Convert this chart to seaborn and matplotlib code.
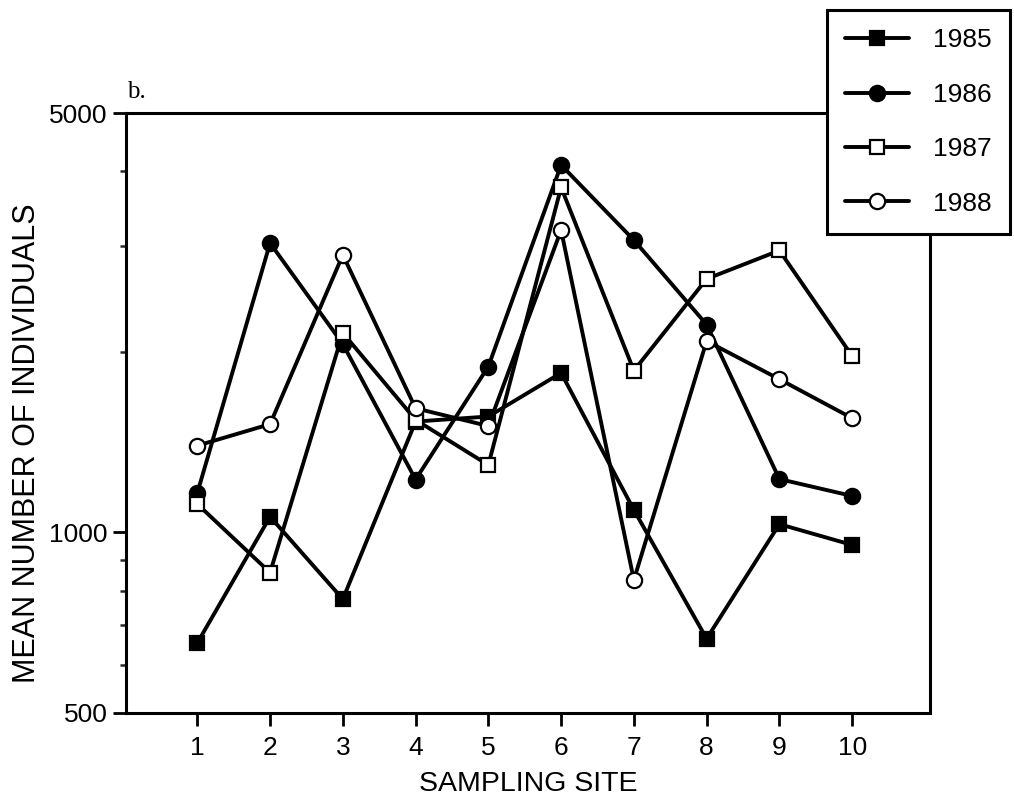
import numpy as np
import pandas as pd
import matplotlib
matplotlib.use("Agg")
import matplotlib.pyplot as plt
import seaborn as sns
from matplotlib.ticker import FixedLocator, NullFormatter

sites = [1, 2, 3, 4, 5, 6, 7, 8, 9, 10]
years = ["1985", "1986", "1987", "1988"]

counts_1985 = [654, 1062, 774, 1530, 1560, 1844, 1090, 665, 1032, 953]
counts_1986 = [1163, 3035, 2060, 1225, 1890, 4095, 3070, 2220, 1227, 1150]
counts_1987 = [1115, 857, 2150, 1540, 1295, 3760, 1860, 2645, 2950, 1968]
counts_1988 = [1395, 1515, 2900, 1610, 1504, 3190, 833, 2084, 1800, 1550]

# marker style per year: (marker, face colour)
styles = {
    "1985": ("s", "black"),
    "1986": ("o", "black"),
    "1987": ("s", "white"),
    "1988": ("o", "white"),
}

df = pd.DataFrame({
    "site": sites * 4,
    "count": counts_1985 + counts_1986 + counts_1987 + counts_1988,
    "year": np.repeat(years, len(sites)),
})

sns.set_style("ticks")
plt.rcParams["font.family"] = ["Liberation Sans", "DejaVu Sans"]
plt.rcParams["text.color"] = "black"
plt.rcParams["axes.labelcolor"] = "black"

fig = plt.figure(figsize=(10.14, 7.99), dpi=100)
ax = fig.add_axes([126 / 1014, 1 - 713 / 799, 804 / 1014, 600 / 799])

for yr in years:
    mk, fc = styles[yr]
    sub = df[df["year"] == yr]
    sns.lineplot(data=sub, x="site", y="count", ax=ax, color="black",
                 linewidth=2.8, marker=mk, markersize=11 if mk == "o" else 10,
                 markerfacecolor=fc, markeredgecolor="black",
                 markeredgewidth=1.6, label=yr)

ax.set_yscale("log")
ax.set_ylim(500, 5000)
ax.set_xlim(0.02, 11.07)
ax.set_xticks(sites)
ax.yaxis.set_major_locator(FixedLocator([500, 1000, 5000]))
ax.yaxis.set_minor_locator(FixedLocator([600, 700, 800, 900, 2000, 3000, 4000]))
ax.yaxis.set_minor_formatter(NullFormatter())
ax.set_yticklabels(["500", "1000", "5000"])

for s in ax.spines.values():
    s.set_visible(True)
    s.set_linewidth(2.2)
    s.set_color("black")

ax.tick_params(axis="both", which="major", direction="out", length=9.5,
               width=2, labelsize=19, colors="black")
ax.tick_params(axis="y", which="major", pad=3.5)
ax.tick_params(axis="x", which="major", pad=7)
ax.tick_params(axis="y", which="minor", direction="out", length=4.5, width=1.8)

ax.set_xlabel("SAMPLING SITE", fontsize=20.5)
ax.set_ylabel("MEAN NUMBER OF INDIVIDUALS", fontsize=22)
ax.xaxis.set_label_coords(0.5, -0.097)
ax.yaxis.set_label_coords(-0.104, 0.45)

handles, labels = ax.get_legend_handles_labels()
ax.get_legend().remove()
leg = fig.legend(handles, labels, loc="upper left",
                 bbox_to_anchor=(827 / 1014, 1 - 10 / 799),
                 fontsize=19, frameon=True, fancybox=False, framealpha=1,
                 edgecolor="black", handlelength=2.4, handletextpad=0.9,
                 labelspacing=1.15, borderpad=0.7, borderaxespad=0)
leg.get_frame().set_linewidth(2.2)

fig.text(127 / 1014, 1 - 92 / 799, "b.", fontsize=18,
         family="Liberation Serif", va="center", ha="left")

fig.savefig("out.png", dpi=100)
